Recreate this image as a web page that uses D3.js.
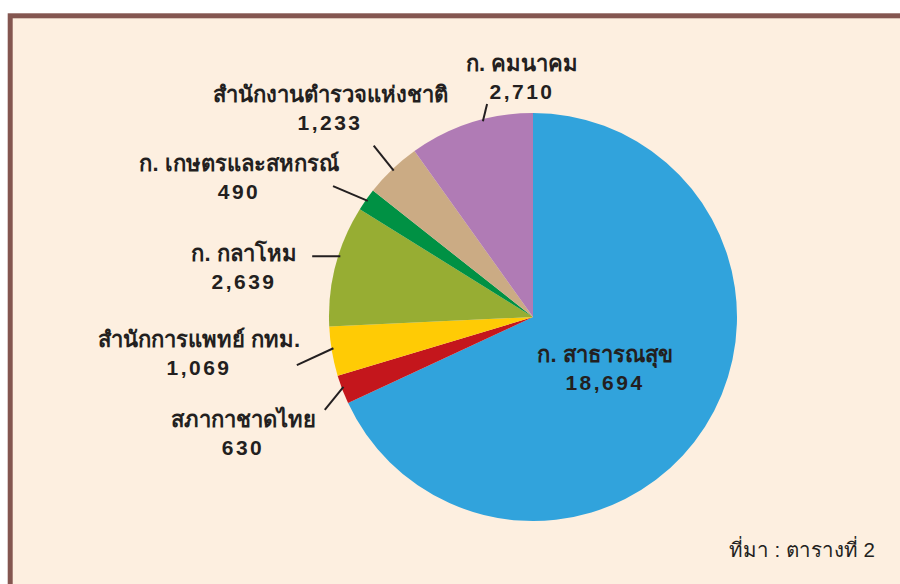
<!DOCTYPE html>
<html>
<head>
<meta charset="utf-8">
<script src="https://cdn.jsdelivr.net/npm/d3@7"></script>
<style>
  body { margin: 0; background: #ffffff; }
  svg { display: block; }
  .lbl { font-family: "Liberation Sans", "Noto Sans", sans-serif; font-weight: bold; font-size: 22px; fill: #231f20; }
  .num { font-size: 21px; letter-spacing: 2.5px; }
  .src { font-family: "Liberation Sans", "Noto Sans", sans-serif; font-size: 20.5px; fill: #231f20; }
</style>
</head>
<body>
<script>
// data
const names = ['ก. สาธารณสุข', 'สภากาชาดไทย', 'สำนักการแพทย์ กทม.', 'ก. กลาโหม', 'ก. เกษตรและสหกรณ์', 'สำนักงานตำรวจแห่งชาติ', 'ก. คมนาคม']
const values = [18694, 630, 1069, 2639, 490, 1233, 2710]
const colors = ['#31a3dc', '#c4161c', '#ffcb05', '#97ad33', '#009144', '#cbab84', '#b07bb5']
const sourceText = 'ที่มา : ตารางที่ 2'

// layout (label centres relative to pie centre, leader tweaks)
const labelPos = [[72, 45], [-290, 110], [-334, 30], [-289, -56], [-294, -146], [-203, -215], [-11, -246]]
const leader = [null, [0.6, -3.2, 228], [0.8, -1.8, 241], [2.9, 0.8, 229], [0, -1.9, 239], [0, 0.7, 234], [3.4, 5.6, 218]]

const width = 900, height = 584
const cx = 533, cy = 317, R = 204

const svg = d3.select('body').append('svg')
    .attr('width', width)
    .attr('height', height)

// frame
svg.append('rect')
    .attr('x', 10.2).attr('y', 15.8)
    .attr('width', 1000).attr('height', 1000)
    .style('fill', '#fdefe0')
    .style('stroke', '#845650')
    .style('stroke-width', 5)

const pie = d3.pie().sort(null).value(d => d)
const arcs = pie(values)
const arc = d3.arc().innerRadius(0).outerRadius(R)

const g = svg.append('g').attr('transform', `translate(${cx},${cy})`)

g.selectAll('.slice')
    .data(arcs)
    .enter()
    .append('path')
    .attr('class', 'slice')
    .attr('d', arc)
    .style('fill', (d, i) => colors[i])

// leader lines
const polar = (deg, r) => {
    const a = deg * Math.PI / 180
    return [r * Math.sin(a), -r * Math.cos(a)]
}
arcs.forEach((d, i) => {
    if (!leader[i]) return
    const mid = (d.startAngle + d.endAngle) / 2 * 180 / Math.PI
    const p1 = polar(mid + leader[i][0], R - 2)
    const p2 = polar(mid + leader[i][1], leader[i][2])
    g.append('line')
        .attr('x1', p1[0]).attr('y1', p1[1])
        .attr('x2', p2[0]).attr('y2', p2[1])
        .style('stroke', '#231f20')
        .style('stroke-width', 2)
})

// labels
const labels = g.selectAll('.label')
    .data(arcs)
    .enter()
    .append('g')
    .attr('class', 'label')
    .attr('transform', (d, i) => `translate(${labelPos[i][0]},${labelPos[i][1]})`)

labels.append('text')
    .attr('class', 'lbl')
    .attr('text-anchor', 'middle')
    .attr('y', 0)
    .text((d, i) => names[i])

labels.append('text')
    .attr('class', 'lbl num')
    .attr('text-anchor', 'middle')
    .attr('y', 28)
    .text(d => d3.format(',')(d.value))

svg.append('text')
    .attr('class', 'src')
    .attr('x', 875)
    .attr('y', 557)
    .attr('text-anchor', 'end')
    .text(sourceText)
</script>
</body>
</html>
